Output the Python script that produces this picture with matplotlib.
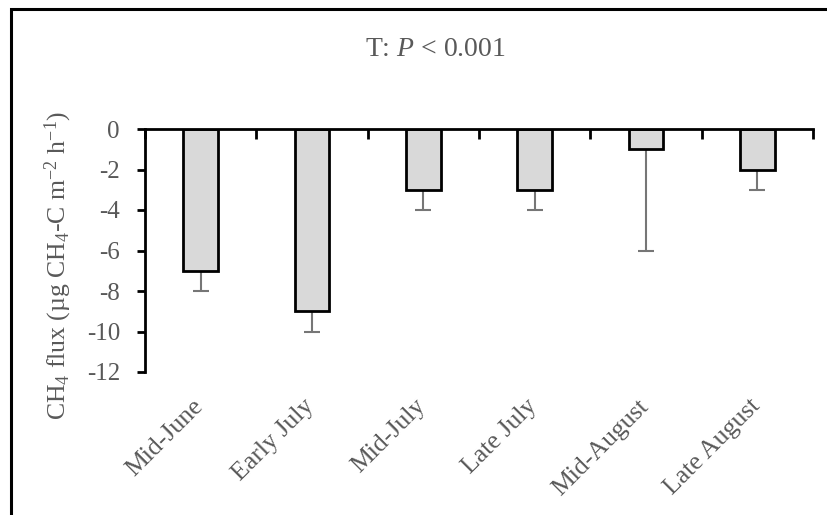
import matplotlib
matplotlib.use("Agg")
import matplotlib.pyplot as plt
import matplotlib.transforms as mtransforms
from matplotlib.patches import Rectangle
import numpy as np

plt.rcParams['font.family'] = ['Liberation Serif', 'DejaVu Serif']
plt.rcParams['mathtext.fontset'] = 'custom'
plt.rcParams['mathtext.rm'] = 'Liberation Serif'
plt.rcParams['mathtext.it'] = 'Liberation Serif:italic'

periods = ['Mid-June', 'Early July', 'Mid-July', 'Late July', 'Mid-August', 'Late August']
flux = [-7, -9, -3, -3, -1, -2]
flux_err = [1, 1, 1, 1, 5, 1]
yticks = [0, -2, -4, -6, -8, -10, -12]

grey_txt = '#595959'

fig = plt.figure(figsize=(8.28, 5.15), dpi=100)
ax = fig.add_axes([145 / 828, 143 / 515, 668 / 828, 243 / 515])

x = np.arange(len(periods))
ax.bar(x, flux, width=0.31, color='#d9d9d9', edgecolor='black', linewidth=2, zorder=2)
# one-sided error bars, downward only
ax.errorbar(x, flux, yerr=[flux_err, [0] * len(flux)], fmt='none',
            ecolor='#767676', elinewidth=1.5, capsize=6, capthick=1.5, zorder=1)

ax.set_xlim(-0.5, len(periods) - 0.5)
ax.set_ylim(-12, 0)

for s in ['bottom', 'right']:
    ax.spines[s].set_visible(False)
for s in ['left', 'top']:
    ax.spines[s].set_linewidth(2)
    ax.spines[s].set_capstyle('projecting')

ax.xaxis.set_ticks_position('top')
ax.set_xticks(np.arange(len(periods) + 1) - 0.5)
ax.tick_params(axis='x', direction='in', length=7, width=2, labeltop=False, labelbottom=False)
ax.set_yticks(yticks)
ax.set_yticklabels([str(v) for v in yticks])
ax.tick_params(axis='y', direction='out', length=6, width=2, labelsize=18,
               labelcolor=grey_txt, pad=12)

# category names under the plot, rotated like the spreadsheet default
trans = ax.get_xaxis_transform() + mtransforms.ScaledTranslation(-1 / 100, -31 / 100, fig.dpi_scale_trans)
for xi, name in zip(x, periods):
    ax.text(xi, 0, name, transform=trans, rotation=45, rotation_mode='anchor',
            ha='right', va='center', fontsize=18.5, color=grey_txt)

ax.set_ylabel(r'CH$_4$ flux (µg CH$_4$-C m$^{-2}$ h$^{-1}$)', fontsize=18.5,
              color=grey_txt)
ax.yaxis.set_label_coords(-0.106, 0.44)

fig.text(0.526, 0.903, r'T: $\mathit{P}$ < 0.001', ha='center', va='center',
         fontsize=20, color=grey_txt)

# outer frame
fig.patches.append(Rectangle((11.5 / 828, -0.1), 1.2, 1.1 - 9.5 / 515, transform=fig.transFigure,
                             fill=False, edgecolor='black', linewidth=2.2))

fig.savefig('out.png', dpi=100)
